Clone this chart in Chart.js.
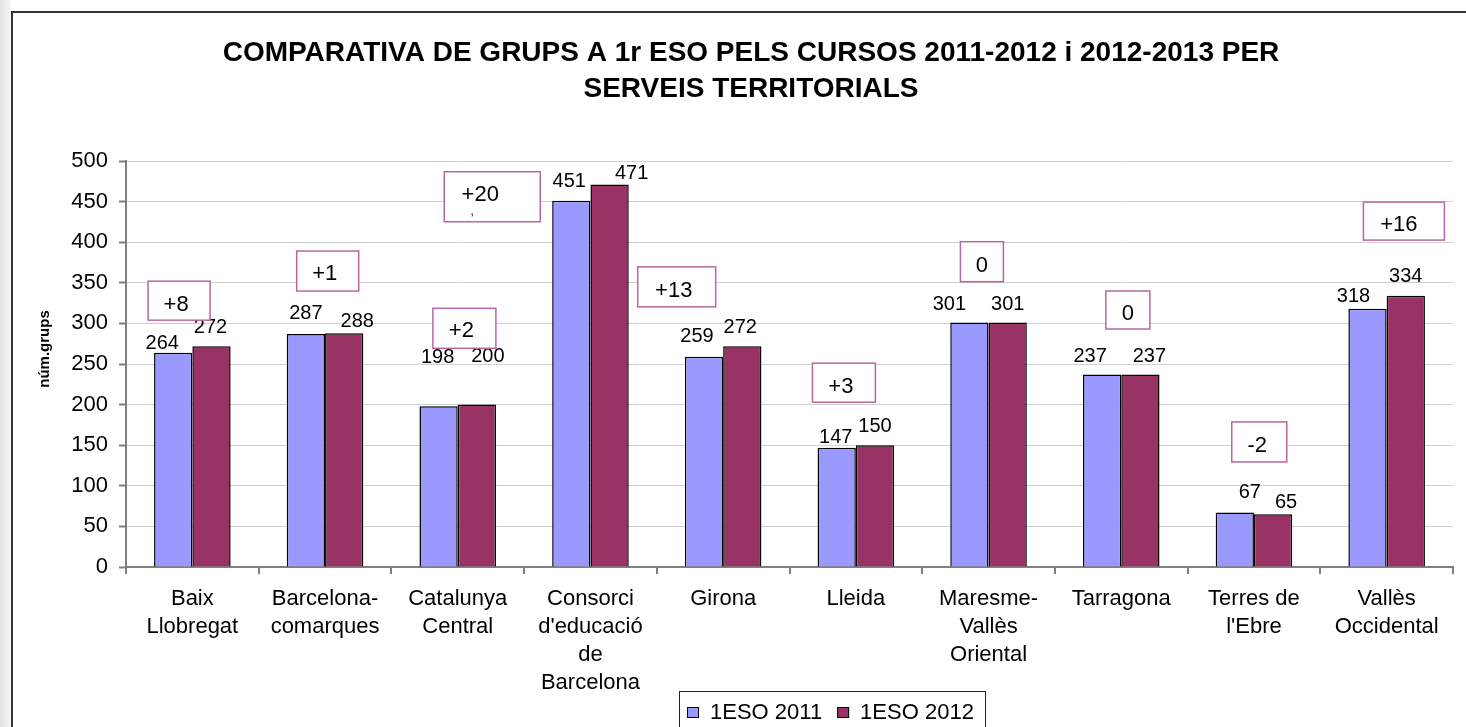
<!DOCTYPE html>
<html lang="ca">
<head>
    <meta charset="UTF-8">
    <title>Comparativa de grups a 1r ESO</title>
    <style>
        * {
            margin: 0;
            padding: 0;
            box-sizing: content-box;
        }
        body {
            width: 1466px;
            height: 727px;
            overflow: hidden;
            background: #fff;
            font-family: 'Liberation Sans', Arial, sans-serif;
        }
        .edge {
            position: absolute;
            left: 0;
            top: 0;
            width: 11px;
            height: 100%;
            background: linear-gradient(to right, #e2e2e2, #f6f6f6);
        }
        .frame {
            position: absolute;
            left: 11px;
            top: 11px;
            border-top: 2px solid #333;
            border-left: 2px solid #333;
            background: #fff;
        }
        canvas {
            display: block;
        }
    </style>
</head>
<body>
    <div class="edge"></div>
    <div class="frame">
        <canvas id="groupsChart" width="1476" height="740"></canvas>
    </div>

    <script src="https://cdn.jsdelivr.net/npm/chart.js"></script>
    <script>
        // data
        const categories = ['Baix Llobregat', 'Barcelona-comarques', 'Catalunya Central',
            "Consorci d'educació de Barcelona", 'Girona', 'Lleida', 'Maresme-Vallès Oriental',
            'Tarragona', "Terres de l'Ebre", 'Vallès Occidental'];
        const tickLabels = [['Baix', 'Llobregat'], ['Barcelona-', 'comarques'], ['Catalunya', 'Central'],
            ['Consorci', "d'educació", 'de', 'Barcelona'], ['Girona'], ['Lleida'],
            ['Maresme-', 'Vallès', 'Oriental'], ['Tarragona'], ['Terres de', "l'Ebre"], ['Vallès', 'Occidental']];
        const seriesNames = ['1ESO 2011', '1ESO 2012'];
        const groups2011 = [264, 287, 198, 451, 259, 147, 301, 237, 67, 318];
        const groups2012 = [272, 288, 200, 471, 272, 150, 301, 237, 65, 334];
        const yMax = 500;
        const yStep = 50;

        // placement of the value labels (px shift from the bar top centre), as they were moved by hand
        const labelShift = [
            [[-11, -9], [0, -20], [-1, -49], [-2, -19], [-7, -20], [-1, -10], [-20, -18], [-12, -18], [15, -20], [-14, -12]],
            [[-1, -19], [13, -12], [11, -48], [22, -11], [-2, -19], [0, -19], [0, -18], [9, -18], [13, -12], [0, -19]]
        ];
        // change boxes: [category position, value at box centre, width, height, text dx, text dy]
        const notePlace = [
            [-0.10, 328, 62, 39, -3, 4],
            [1.02, 364.5, 62, 40, -3, 3],
            [2.05, 294, 63, 40, -3, 3],
            [2.26, 456, 96, 50, -12, -2],
            [3.65, 345, 78, 40, -3, 4],
            [4.91, 227, 63, 39, -3, 4],
            [5.95, 376, 43, 40, 0, 4],
            [7.05, 316.5, 44, 38, 0, 4],
            [8.04, 154, 55, 40, -2, 4],
            [9.13, 426, 81, 38, -5, 4]
        ];

        const colors = ['#9999ff', '#993366'];
        const FONT = "'Liberation Sans', Arial, sans-serif";

        Chart.defaults.font.family = FONT;
        Chart.defaults.color = '#000';

        // draws value labels, the change boxes, the y title and the legend
        const notesPlugin = {
            id: 'notes',
            afterDraw(chart) {
                const ctx = chart.ctx;
                const xs = chart.scales.x;
                const ys = chart.scales.y;
                const area = chart.chartArea;
                ctx.save();

                ctx.font = '20px ' + FONT;
                ctx.fillStyle = '#000';
                ctx.textAlign = 'center';
                ctx.textBaseline = 'middle';
                chart.data.datasets.forEach((ds, di) => {
                    chart.getDatasetMeta(di).data.forEach((bar, i) => {
                        const s = labelShift[di][i];
                        ctx.fillText(ds.data[i], bar.x + s[0], bar.y + s[1]);
                    });
                });

                const step = xs.getPixelForValue(1) - xs.getPixelForValue(0);
                ctx.font = '22px ' + FONT;
                ctx.strokeStyle = '#b8689c';
                ctx.lineWidth = 1.5;
                notePlace.forEach((p, i) => {
                    const diff = groups2012[i] - groups2011[i];
                    const text = diff > 0 ? '+' + diff : String(diff);
                    const cx = xs.getPixelForValue(0) + p[0] * step;
                    const cy = ys.getPixelForValue(p[1]);
                    ctx.fillStyle = '#fff';
                    ctx.fillRect(cx - p[2] / 2, cy - p[3] / 2, p[2], p[3]);
                    ctx.strokeRect(cx - p[2] / 2, cy - p[3] / 2, p[2], p[3]);
                    ctx.fillStyle = '#000';
                    ctx.fillText(text, cx + p[4], cy + p[5]);
                    if (p[3] > 45) {
                        // wrapped second line of the big box
                        ctx.font = '12px ' + FONT;
                        ctx.fillText(',', cx + p[4] - 8, cy + 15);
                        ctx.font = '22px ' + FONT;
                    }
                });

                // axis title
                ctx.save();
                ctx.translate(32, (area.top + area.bottom) / 2 - 15);
                ctx.rotate(-Math.PI / 2);
                ctx.font = 'bold 15px ' + FONT;
                ctx.fillText('núm.grups', 0, 0);
                ctx.restore();

                // legend
                const lx = area.left + 553;
                const ly = area.bottom + 124;
                ctx.strokeStyle = '#222';
                ctx.lineWidth = 1;
                ctx.strokeRect(lx + 0.5, ly + 0.5, 306, 70);
                ctx.font = '22px ' + FONT;
                ctx.textAlign = 'left';
                let px = lx + 8;
                chart.data.datasets.forEach((ds) => {
                    ctx.fillStyle = ds.backgroundColor;
                    ctx.fillRect(px, ly + 16, 12, 11);
                    ctx.strokeStyle = '#000';
                    ctx.strokeRect(px + 0.5, ly + 16.5, 11, 10);
                    ctx.fillStyle = '#000';
                    ctx.fillText(ds.label, px + 23, ly + 22);
                    px += 23 + ctx.measureText(ds.label).width + 15;
                });
                ctx.restore();
            }
        };

        const ctx = document.getElementById('groupsChart').getContext('2d');
        new Chart(ctx, {
            type: 'bar',
            data: {
                labels: categories,
                datasets: [
                    { label: seriesNames[0], data: groups2011, backgroundColor: colors[0] },
                    { label: seriesNames[1], data: groups2012, backgroundColor: colors[1] }
                ]
            },
            options: {
                responsive: false,
                animation: false,
                // equal side padding keeps the title centred on the whole frame
                layout: { padding: { left: 36, right: 36, top: 0, bottom: 0 } },
                datasets: {
                    bar: {
                        borderColor: '#000',
                        borderWidth: 1.5,
                        borderSkipped: 'start',
                        barPercentage: 1,
                        categoryPercentage: 0.577
                    }
                },
                plugins: {
                    legend: { display: false },
                    tooltip: { enabled: false },
                    title: {
                        display: true,
                        text: ['COMPARATIVA DE GRUPS A 1r ESO PELS CURSOS 2011-2012 i 2012-2013 PER',
                            'SERVEIS TERRITORIALS'],
                        color: '#000',
                        font: { size: 28, weight: 'bold', lineHeight: 1.286 },
                        padding: { top: 22, bottom: 54 }
                    }
                },
                scales: {
                    x: {
                        ticks: {
                            padding: 11,
                            color: '#000',
                            maxRotation: 0,
                            autoSkip: false,
                            font: { size: 22, lineHeight: 1.27 },
                            callback: (v, i) => tickLabels[i]
                        },
                        grid: {
                            drawOnChartArea: false,
                            offset: true,
                            tickLength: 7,
                            color: '#808080',
                            lineWidth: 2
                        },
                        border: { color: '#808080', width: 2 },
                        afterFit(s) { s.height = 186; }
                    },
                    y: {
                        min: 0,
                        max: yMax,
                        ticks: {
                            stepSize: yStep,
                            padding: 11,
                            color: '#000',
                            font: { size: 22 }
                        },
                        grid: {
                            color: '#d0d0d0',
                            lineWidth: 1,
                            tickLength: 7,
                            tickColor: '#808080',
                            tickWidth: 2
                        },
                        border: { color: '#808080', width: 2 },
                        afterFit(s) { s.width = 77; }
                    }
                }
            },
            plugins: [notesPlugin]
        });
    </script>
</body>
</html>
